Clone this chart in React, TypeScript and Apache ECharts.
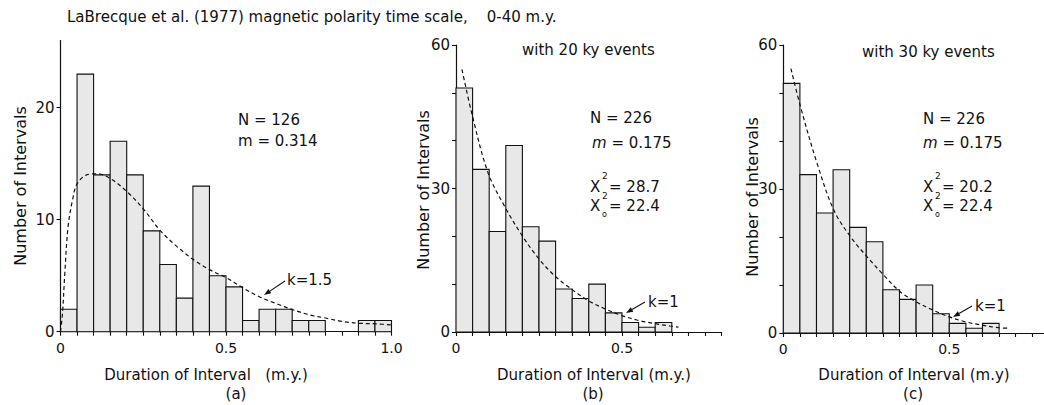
import React, { useEffect, useRef } from 'react';
import * as echarts from 'echarts';

// ---------- data ----------
const binWidth = 0.05;
const binStartsA = [0, 0.05, 0.1, 0.15, 0.2, 0.25, 0.3, 0.35, 0.4, 0.45, 0.5, 0.55, 0.6, 0.65, 0.7, 0.75, 0.8, 0.85, 0.9, 0.95];
const countsA = [2, 23, 14, 17, 14, 9, 6, 3, 13, 5, 4, 1, 2, 2, 1, 1, 0, 0, 1, 1];
const binStartsBC = [0, 0.05, 0.1, 0.15, 0.2, 0.25, 0.3, 0.35, 0.4, 0.45, 0.5, 0.55, 0.6];
const countsB = [51, 34, 21, 39, 22, 19, 9, 7, 10, 4, 2, 1, 2];
const countsC = [52, 33, 25, 34, 22, 19, 9, 7, 10, 4, 2, 1, 2];

// fitted gamma curves
const curveA = [[0, 0], [0.006, 1.6], [0.013, 5.2], [0.023, 9.4], [0.038, 12.0], [0.05, 13.2], [0.079, 14.0], [0.109, 14.1], [0.149, 13.7], [0.201, 12.5], [0.252, 10.9], [0.302, 9.0], [0.352, 7.6], [0.403, 6.4], [0.453, 5.5], [0.502, 4.8], [0.552, 3.9], [0.602, 3.1], [0.653, 2.5], [0.703, 1.95], [0.753, 1.5], [0.804, 1.2], [0.854, 0.9], [0.904, 0.75], [0.955, 0.7], [1.0, 0.6]];
const curveB = [[0.018, 54.9], [0.05, 45.0], [0.097, 33.2], [0.147, 26.2], [0.195, 20.6], [0.245, 15.7], [0.295, 11.9], [0.345, 9.1], [0.395, 6.7], [0.445, 4.95], [0.495, 3.55], [0.545, 2.5], [0.595, 1.8], [0.645, 1.25], [0.67, 1.0]];
const curveC = [[0.023, 55.1], [0.052, 47.1], [0.102, 35.3], [0.152, 25.6], [0.202, 20.1], [0.252, 15.9], [0.302, 12.1], [0.352, 8.6], [0.4, 6.5], [0.45, 4.8], [0.498, 3.4], [0.548, 2.35], [0.598, 1.65], [0.648, 1.1], [0.675, 1.0]];

const xTicksA = [0, 0.05, 0.1, 0.15, 0.2, 0.25, 0.3, 0.35, 0.4, 0.45, 0.5, 0.55, 0.6, 0.65, 0.7, 0.75, 0.8, 0.85, 0.9, 0.95, 1.0];
const xLabelsA = [0, 0.5, 1.0];
const xTicksBC = [0, 0.05, 0.1, 0.15, 0.2, 0.25, 0.3, 0.35, 0.4, 0.45, 0.5, 0.55, 0.6, 0.65, 0.7, 0.75, 0.8];
const xLabelsBC = [0, 0.5];
const yTicksA = [0, 10, 20];
const yTicksBC = [0, 10, 20, 30, 40, 50, 60];
const yLabelsBC = [0, 30, 60];

const titleText = 'LaBrecque et al. (1977) magnetic polarity time scale,    0-40 m.y.';
const yName = 'Number of Intervals';

// ---------- styles ----------
const FONT = "'DejaVu Sans', 'Liberation Sans', sans-serif";
const INK = '#111';
const BAR_FILL = '#e8e8e8';

function renderBar(params: any, api: any) {
  const x0 = api.value(0);
  const v = api.value(1);
  if (!v) return null;
  const p0 = api.coord([x0, v]);
  const p1 = api.coord([x0 + binWidth, 0]);
  return {
    type: 'rect',
    shape: { x: p0[0], y: p0[1], width: p1[0] - p0[0], height: p1[1] - p0[1] },
    style: { fill: BAR_FILL, stroke: INK, lineWidth: 1.1 },
  };
}

function xAxis(gridIndex: number, max: number, ticks: number[], labels: number[]) {
  return {
    type: 'value', gridIndex, min: 0, max,
    splitLine: { show: false },
    axisLine: { show: true, onZero: false, lineStyle: { color: INK, width: 1.2 } },
    axisTick: { show: true, customValues: ticks, length: 4, lineStyle: { color: INK, width: 1.1 } },
    axisLabel: {
      customValues: labels, margin: 9, color: INK, fontSize: 14, fontFamily: FONT,
      formatter: (v: number) => (v === 0 ? '0' : v.toFixed(1)),
    },
  };
}

function yAxis(gridIndex: number, max: number, ticks: number[], labels: number[]) {
  return {
    type: 'value', gridIndex, min: 0, max,
    splitLine: { show: false },
    axisLine: { show: true, lineStyle: { color: INK, width: 1.2 } },
    axisTick: { show: true, customValues: ticks, length: 4, lineStyle: { color: INK, width: 1.1 } },
    axisLabel: { customValues: labels, margin: 6, color: INK, fontSize: 15, fontFamily: FONT },
  };
}

function txt(text: string, x: number, y: number, opts: any = {}) {
  const fs = opts.fontSize || 15;
  return {
    type: 'text', x, y, rotation: opts.rotation || 0, silent: true,
    style: {
      text, fill: INK, fontSize: fs, fontFamily: FONT, lineHeight: fs,
      align: opts.align || 'left', verticalAlign: 'middle', rich: opts.rich,
    },
  };
}

function arrow(x1: number, y1: number, x2: number, y2: number) {
  const dx = x2 - x1, dy = y2 - y1;
  const len = Math.sqrt(dx * dx + dy * dy);
  const ux = dx / len, uy = dy / len;
  const bx = x2 - ux * 7, by = y2 - uy * 7;
  const nx = -uy * 2.6, ny = ux * 2.6;
  return [
    { type: 'line', silent: true, shape: { x1, y1, x2: bx, y2: by }, style: { stroke: INK, lineWidth: 1.1 } },
    { type: 'polygon', silent: true, shape: { points: [[x2, y2], [bx + nx, by + ny], [bx - nx, by - ny]] }, style: { fill: INK } },
  ];
}

function chiBlock(x: number, y1: number, y2: number, v1: string, v2: string) {
  return [
    txt('Χ', x, y1, { fontSize: 15 }),
    txt('2', x + 12, y1 - 11, { fontSize: 9 }),
    txt('= ' + v1, x + 19, y1),
    txt('Χ', x, y2, { fontSize: 15 }),
    txt('2', x + 12, y2 - 10, { fontSize: 9 }),
    txt('o', x + 12, y2 + 8, { fontSize: 8 }),
    txt('= ' + v2, x + 19, y2),
  ];
}

const mRich = { i: { fontStyle: 'italic', fontSize: 15, fontFamily: FONT, fill: INK } };

export default function App() {
  const ref = useRef<HTMLDivElement>(null);
  useEffect(() => {
    if (!ref.current) return;
    const chart = echarts.init(ref.current, null, { renderer: 'svg' });
    const lineSeries = (data: number[][], idx: number) => ({
      type: 'line', xAxisIndex: idx, yAxisIndex: idx, data, smooth: 0.35, showSymbol: false, z: 5,
      lineStyle: { color: INK, width: 1.2, type: [4, 3] }, silent: true,
    });
    const barSeries = (starts: number[], counts: number[], idx: number) => ({
      type: 'custom', xAxisIndex: idx, yAxisIndex: idx, renderItem: renderBar,
      data: starts.map((s, i) => [s, counts[i]]), encode: { x: 0, y: 1 }, z: 2, silent: true,
    });
    chart.setOption({
      animation: false,
      backgroundColor: '#ffffff',
      grid: [
        { left: 60.5, top: 40.5, width: 331, height: 291.2, outerBoundsMode: 'none' },
        { left: 456, top: 45, width: 265.6, height: 287, outerBoundsMode: 'none' },
        { left: 783.3, top: 45, width: 265.6, height: 288, outerBoundsMode: 'none' },
      ],
      xAxis: [
        xAxis(0, 1.0, xTicksA, xLabelsA),
        xAxis(1, 0.8, xTicksBC, xLabelsBC),
        xAxis(2, 0.8, xTicksBC, xLabelsBC),
      ],
      yAxis: [
        yAxis(0, 26, yTicksA, yTicksA),
        yAxis(1, 60, yTicksBC, yLabelsBC),
        yAxis(2, 60, yTicksBC, yLabelsBC),
      ],
      series: [
        barSeries(binStartsA, countsA, 0),
        barSeries(binStartsBC, countsB, 1),
        barSeries(binStartsBC, countsC, 2),
        lineSeries(curveA, 0),
        lineSeries(curveB, 1),
        lineSeries(curveC, 2),
      ],
      graphic: [
        txt(titleText, 67, 17, { fontSize: 15 }),
        // axis titles
        txt(yName, 20, 186, { rotation: Math.PI / 2, align: 'center', fontSize: 16 }),
        txt(yName, 423, 190, { rotation: Math.PI / 2, align: 'center', fontSize: 16 }),
        txt(yName, 752, 197, { rotation: Math.PI / 2, align: 'center', fontSize: 16 }),
        txt('Duration of Interval   (m.y.)', 206, 375, { align: 'center' }),
        txt('Duration of Interval (m.y.)', 594, 375, { align: 'center' }),
        txt('Duration of Interval (m.y)', 914, 375, { align: 'center' }),
        txt('(a)', 236, 394, { align: 'center' }),
        txt('(b)', 593, 394, { align: 'center' }),
        txt('(c)', 913, 394, { align: 'center' }),
        // panel a
        txt('N = 126', 238, 120),
        txt('m = 0.314', 238, 141),
        txt('k=1.5', 287, 280),
        ...arrow(285, 281, 264, 295),
        // panel b
        txt('with 20 ky events', 522, 50),
        txt('N = 226', 590, 118),
        txt('{i|m} = 0.175', 592, 143, { rich: mRich }),
        ...chiBlock(590, 187, 206, '28.7', '22.4'),
        txt('k=1', 648, 302),
        ...arrow(645, 302, 626, 313),
        // panel c
        txt('with 30 ky events', 862, 52),
        txt('N = 226', 923, 119),
        txt('{i|m} = 0.175', 923, 143, { rich: mRich }),
        ...chiBlock(923, 187, 206, '20.2', '22.4'),
        txt('k=1', 975, 306),
        ...arrow(972, 306, 953, 317),
      ],
    });
    return () => chart.dispose();
  }, []);
  return <div ref={ref} style={{ position: 'fixed', left: 0, top: 0, width: 1044, height: 405, background: '#fff' }} />;
}
